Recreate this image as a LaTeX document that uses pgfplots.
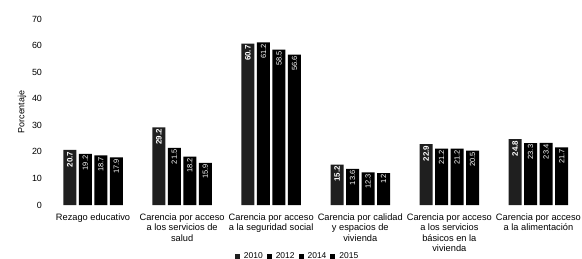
\documentclass[border=0pt]{standalone}
\usepackage{pgfplots}
\pgfplotsset{compat=1.18}
\usepackage{fontspec}
\setmainfont{Liberation Sans}
\begin{document}
\begin{tikzpicture}
\useasboundingbox (0,0) rectangle (582bp,259bp);
\begin{axis}[
  at={(48.5bp,54bp)}, anchor=south west,
  scale only axis,
  width=530bp, height=186bp,
  xmin=-0.5, xmax=5.45,
  ymin=0, ymax=70,
  ytick={0,10,...,70},
  xtick={0,1,2,3,4,5},
  xticklabels={{Rezago educativo},{Carencia por acceso\\a los servicios de\\salud},{Carencia por acceso\\a la seguridad social},{Carencia por calidad\\y espacios de\\vivienda},{Carencia por acceso\\a los servicios\\básicos en la\\vivienda},{Carencia por acceso\\a la alimentación}},
  xticklabel style={align=center, font=\fontsize{9.3}{10.5}\selectfont, yshift=-1bp},
  yticklabel style={font=\fontsize{9}{10}\selectfont, xshift=-3bp},
  /pgf/number format/assume math mode=true,
  axis line style={draw=none},
  tick style={draw=none},
  ylabel={Porcentaje},
  ylabel style={font=\fontsize{9}{10}\selectfont, yshift=-1bp},
  ybar=2.5bp,
  bar width=13bp,
  nodes near coords,
  every node near coord/.append style={rotate=90, anchor=east, text=white, font=\fontsize{7.5}{8}\selectfont, inner sep=1.5bp},
  legend columns=4,
  legend style={at={(0.47,-0.275)}, anchor=center, draw=none, font=\fontsize{8.5}{9}\selectfont, column sep=2bp, inner sep=0pt},
  legend image code/.code={\fill[#1] (0bp,-2.5bp) rectangle (5bp,2.5bp);},
  clip=false,
]
\addplot[fill=black!88, draw=none, every node near coord/.append style={font=\fontsize{8}{8}\selectfont\bfseries}] coordinates {(0,20.7) (1,29.2) (2,60.7) (3,15.2) (4,22.9) (5,24.8)};
\addplot[fill=black, draw=none] coordinates {(0,19.2) (1,21.5) (2,61.2) (3,13.6) (4,21.2) (5,23.3)};
\addplot[fill=black, draw=none] coordinates {(0,18.7) (1,18.2) (2,58.5) (3,12.3) (4,21.2) (5,23.4)};
\addplot[fill=black, draw=none] coordinates {(0,17.9) (1,15.9) (2,56.6) (3,12) (4,20.5) (5,21.7)};
\legend{2010,2012,2014,2015}
\end{axis}
\end{tikzpicture}
\end{document}
